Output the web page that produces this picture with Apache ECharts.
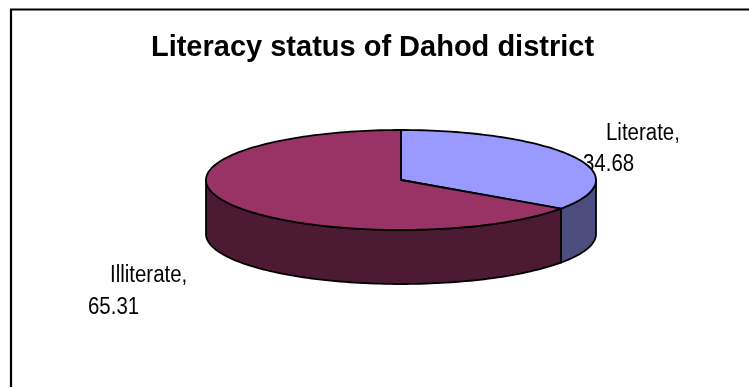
<!DOCTYPE html>
<html>
<head>
<meta charset="utf-8">
<title>Literacy status of Dahod district</title>
<script src="https://cdn.jsdelivr.net/npm/echarts@6/dist/echarts.min.js"></script>
<style>
  html, body { margin: 0; padding: 0; background: #ffffff; }
  #chart { width: 749px; height: 387px; }
</style>
</head>
<body>
<div id="chart"></div>
<script>
// Literacy shares (%) for Dahod district
const categories = ['Literate', 'Illiterate'];
const values = [34.68, 65.31];
const chartTitle = 'Literacy status of Dahod district';

// Face colours per slice: top face and darker outer wall
const topColors = ['#9999FF', '#993366'];
const sideColors = ['#4D4D80', '#4D1A33'];

// Tilted-disc geometry (pixels)
const disc = { cx: 401, cy: 180, rx: 195, ry: 50, depth: 54 };

const total = values.reduce((s, v) => s + v, 0);

function pt(deg, dy) {
  const r = deg * Math.PI / 180;
  return [disc.cx + disc.rx * Math.cos(r), disc.cy - disc.ry * Math.sin(r) + dy];
}

// points along the rim from a0 to a1 (degrees, counter-clockwise positive)
function rim(a0, a1, dy) {
  const n = Math.max(2, Math.ceil(Math.abs(a1 - a0) / 1.5));
  const out = [];
  for (let k = 0; k <= n; k++) out.push(pt(a0 + (a1 - a0) * k / n, dy));
  return out;
}

function sliceAngles(i) {
  const before = values.slice(0, i).reduce((s, v) => s + v, 0);
  const start = 90 - 360 * before / total;       // clockwise from 12 o'clock
  const end = start - 360 * values[i] / total;
  return [end, start];
}

// front part of the rim, where the outer wall faces the viewer
function frontRanges(lo, hi) {
  const out = [];
  for (let k = -2; k <= 1; k++) {
    const f0 = -180 + 360 * k, f1 = 0 + 360 * k;
    const a = Math.max(lo, f0), b = Math.min(hi, f1);
    if (b > a) out.push([a, b]);
  }
  return out;
}

function renderSlice(params, api) {
  const i = params.dataIndex;
  const [lo, hi] = sliceAngles(i);
  const children = [];
  frontRanges(lo, hi).forEach(([a, b]) => {
    const top = rim(b, a, 0);
    const bottom = rim(a, b, disc.depth);
    children.push({
      type: 'polygon',
      z2: 1,
      shape: { points: top.concat(bottom) },
      style: { fill: sideColors[i], stroke: '#000', lineWidth: 1.8, lineJoin: 'round' }
    });
  });
  const face = [[disc.cx, disc.cy]].concat(rim(hi, lo, 0));
  children.push({
    type: 'polygon',
    z2: 5,
    shape: { points: face },
    style: { fill: topColors[i], stroke: '#000', lineWidth: 1.8, lineJoin: 'round' }
  });
  return { type: 'group', children };
}

// narrow data labels: regular sans squeezed horizontally
const labelSize = 23.5;
const labelSqueeze = 0.87;
function label(text, x, baseline) {
  return {
    type: 'text',
    silent: true,
    x: x,
    y: baseline - 0.35 * labelSize,
    scaleX: labelSqueeze,
    style: {
      text, x: 0, y: 0,
      textVerticalAlign: 'middle', textAlign: 'left',
      fontFamily: '"Liberation Sans", Arial, sans-serif',
      fontSize: labelSize,
      fill: '#000'
    }
  };
}

const chart = echarts.init(document.getElementById('chart'), null, { renderer: 'canvas' });
chart.setOption({
  animation: false,
  backgroundColor: '#ffffff',
  graphic: [
    {
      type: 'rect',
      silent: true,
      shape: { x: 11, y: 9.5, width: 900, height: 600 },
      style: { fill: 'none', stroke: '#000', lineWidth: 2.2 }
    },
    {
      type: 'text',
      silent: true,
      style: {
        text: chartTitle,
        x: 372.5,
        y: 58.5 - 0.35 * 29,
        textAlign: 'center',
        textVerticalAlign: 'middle',
        fontFamily: '"Liberation Sans", Arial, sans-serif',
        fontWeight: 'bold',
        fontSize: 29,
        fill: '#000'
      }
    },
    label(categories[0] + ',', 606, 142),
    label(values[0].toFixed(2), 583, 173),
    label(categories[1] + ',', 110, 284),
    label(values[1].toFixed(2), 88, 316)
  ],
  series: [{
    type: 'custom',
    coordinateSystem: 'none',
    silent: true,
    renderItem: renderSlice,
    data: values.map((v, i) => ({ name: categories[i], value: [v] }))
  }]
});
</script>
</body>
</html>
